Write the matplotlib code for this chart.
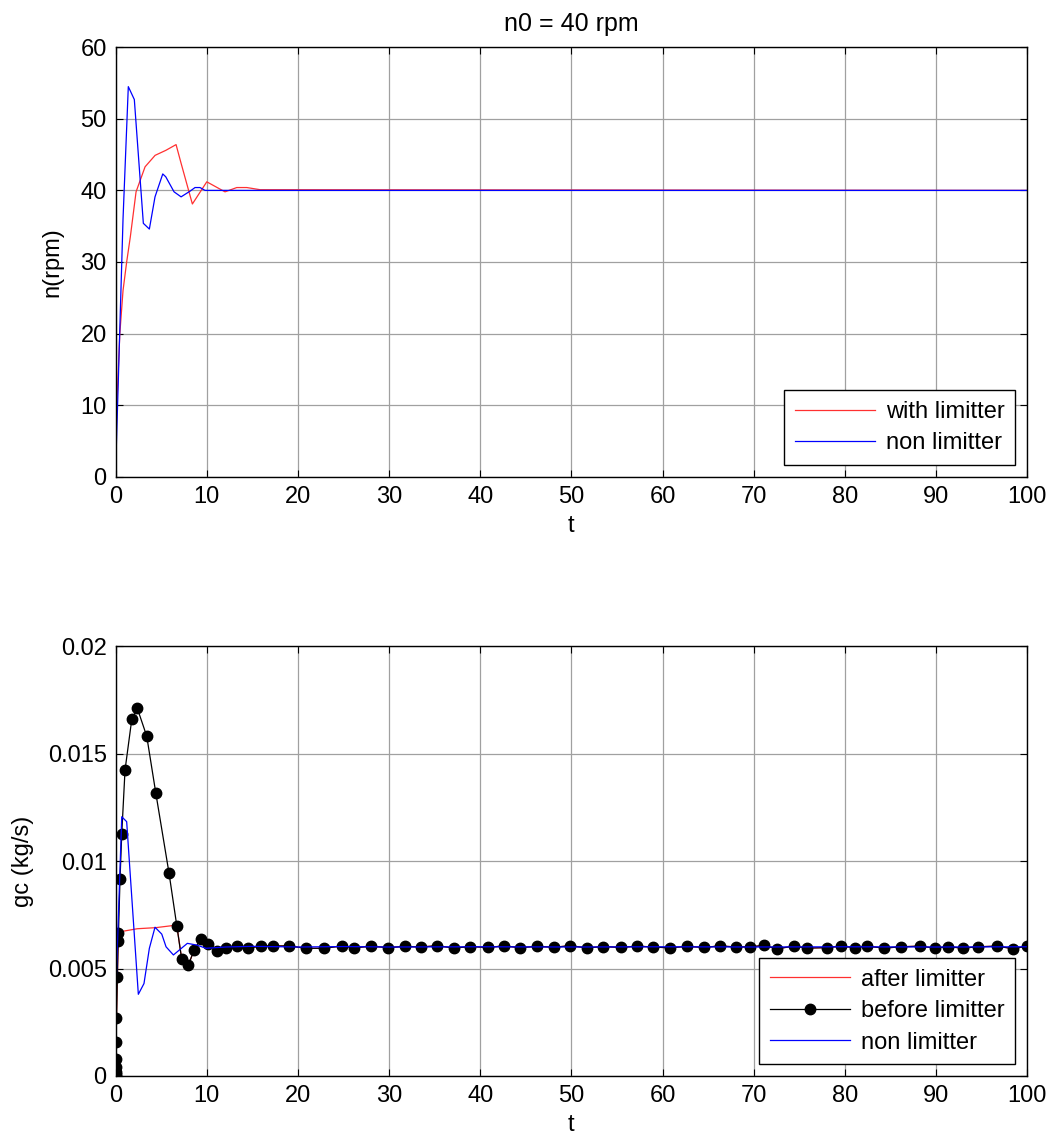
import matplotlib
matplotlib.use("Agg")
import matplotlib.pyplot as plt

plt.rcParams['font.family'] = ['Liberation Sans', 'DejaVu Sans']

# top panel: speed n (rpm)
t_lim = [0, 0.1, 0.45, 0.8, 1.2, 1.6, 2.23, 3.22, 4.32, 5.5, 6.62, 7.17, 8.41,
         9.99, 11.99, 13.28, 14.38, 15.84, 100]
n_lim = [1.5, 9.5, 20, 26, 30, 33.5, 39.8, 43.3, 44.9, 45.6, 46.4, 43.8, 38.1,
         41.2, 39.8, 40.4, 40.4, 40.1, 40]
t_non = [0, 0.25, 0.8, 1.38, 2.04, 3.03, 3.69, 4.31, 5.16, 5.49, 6.4, 7.17,
         8.16, 8.7, 9.25, 9.8, 100]
n_non = [1.5, 12, 36, 54.5, 52.7, 35.4, 34.6, 39.1, 42.3, 41.9, 39.8, 39.1,
         39.9, 40.4, 40.4, 40.0, 40]

# bottom panel: gc (kg/s)
t_before = [0, 0.003, 0.006, 0.01, 0.02, 0.04, 0.08, 0.18, 0.27, 0.3, 0.47,
            0.66, 1.02, 1.76, 2.37, 3.4, 4.39, 5.85, 6.7, 7.24, 7.97, 8.6,
            9.33, 10.16, 11.15, 12.07, 13.28, 14.49, 15.95, 17.3, 19.02,
            20.89, 22.9, 24.8,
            26.2, 28.0, 29.9, 31.7, 33.5, 35.3, 37.1, 38.9, 40.8, 42.6,
            44.4, 46.2, 48.1, 49.9, 51.7, 53.5, 55.4, 57.2, 59.0, 60.8,
            62.7, 64.5, 66.3, 68.1, 69.6, 71.1, 72.6, 74.4, 75.9, 78.0,
            79.6, 81.1, 82.4, 84.3, 86.2, 88.2, 89.9, 91.3, 93.0, 94.6,
            96.7, 98.5, 100]
gc_before = [0, 0.0001, 0.0002, 0.0004, 0.0008, 0.0016, 0.0027, 0.00462,
             0.00628, 0.00664, 0.00916, 0.01126, 0.01423, 0.01659, 0.0171,
             0.01581, 0.01318, 0.00943, 0.00699, 0.00543, 0.00516, 0.00586,
             0.00637, 0.00614, 0.00583, 0.00594, 0.00605, 0.00594, 0.00605,
             0.00605, 0.00605, 0.00594, 0.00594, 0.00605,
             0.00596, 0.00604, 0.00597, 0.00603, 0.00600,
             0.00606, 0.00595, 0.00602, 0.00598, 0.00605,
             0.00597, 0.00603, 0.00599, 0.00606, 0.00596,
             0.00602, 0.00598, 0.00604, 0.00600, 0.00596,
             0.00603, 0.00598, 0.00605, 0.00600, 0.00601,
             0.00607, 0.00592, 0.00604, 0.00595, 0.00597,
             0.00604, 0.00597, 0.00604, 0.00595, 0.00601,
             0.00604, 0.00595, 0.00601, 0.00595, 0.00601,
             0.00604, 0.00592, 0.00604]
# after limitter: same as before except the clipped part
t_after_head = [0, 0.003, 0.006, 0.01, 0.02, 0.04, 0.08, 0.18, 0.27, 0.3,
                1.02, 2.37, 4.39, 6.7]
gc_after_head = [0, 0.0001, 0.0002, 0.0004, 0.0008, 0.0016, 0.0027, 0.00462,
                 0.00628, 0.00668, 0.00675, 0.00685, 0.0069, 0.00702]
t_after = t_after_head + t_before[19:]
gc_after = gc_after_head + gc_before[19:]

t_gc_non = [0, 0.02, 0.66, 1.2, 2.48, 3.1, 3.69, 4.31, 5.05, 5.52, 6.33, 7.86,
            8.89, 9.91, 12, 15, 20, 25, 30, 40, 50, 60, 70, 80, 90, 100]
gc_non = [0, 0.004, 0.01206, 0.01183, 0.0038, 0.0043, 0.00594, 0.00692,
          0.0066, 0.00601, 0.00563, 0.00617, 0.00609, 0.00594, 0.00600,
          0.00603, 0.00600, 0.00602, 0.00600, 0.00601, 0.00600, 0.00601,
          0.00600, 0.00601, 0.00600, 0.00601]

fig = plt.figure(figsize=(10.55, 11.42), dpi=100)
ax1 = fig.add_axes([0.1097, 0.5826, 0.8638, 0.376])
ax2 = fig.add_axes([0.1097, 0.0578, 0.8638, 0.3765])

fs = 17
for ax in (ax1, ax2):
    ax.grid(True, color='#a0a0a0', linewidth=0.9)
    ax.set_axisbelow(True)
    ax.tick_params(direction='in', top=True, right=True, length=5, labelsize=fs, pad=6.5)
    for s in ax.spines.values():
        s.set_linewidth(1.0)
        s.set_color('black')
    ax.set_xlim(0, 100)
    ax.set_xticks(range(0, 101, 10))
    ax.set_xlabel('t', fontsize=fs, labelpad=5)

leg_kw = dict(loc='lower right', fontsize=fs, fancybox=False, framealpha=1,
              edgecolor='black', handlelength=3.4, handletextpad=0.45,
              borderpad=0.45, labelspacing=0.4, borderaxespad=0.5)

ax1.plot(t_lim, n_lim, color='#ff3030', linewidth=0.9, label='with limitter')
ax1.plot(t_non, n_non, color='#0000ff', linewidth=0.9, label='non limitter')
ax1.set_ylim(0, 60)
ax1.set_yticks(range(0, 61, 10))
ax1.set_ylabel('n(rpm)', fontsize=fs, labelpad=12)
ax1.set_title('n0 = 40 rpm', fontsize=18, pad=12)
leg1 = ax1.legend(**leg_kw)
leg1.get_frame().set_linewidth(1.0)

ax2.plot(t_after, gc_after, color='#ff3030', linewidth=0.9, label='after limitter')
ax2.plot(t_before, gc_before, color='black', linewidth=0.9, marker='o',
         markersize=7.5, label='before limitter')
ax2.plot(t_gc_non, gc_non, color='#0000ff', linewidth=0.9, label='non limitter')
ax2.set_ylim(0, 0.02)
ax2.set_yticks([0, 0.005, 0.01, 0.015, 0.02])
ax2.set_yticklabels(['0', '0.005', '0.01', '0.015', '0.02'])
ax2.set_ylabel('gc (kg/s)', fontsize=fs, labelpad=10)
leg2 = ax2.legend(**leg_kw)
leg2.get_frame().set_linewidth(1.0)

fig.savefig('out.png', dpi=100)
